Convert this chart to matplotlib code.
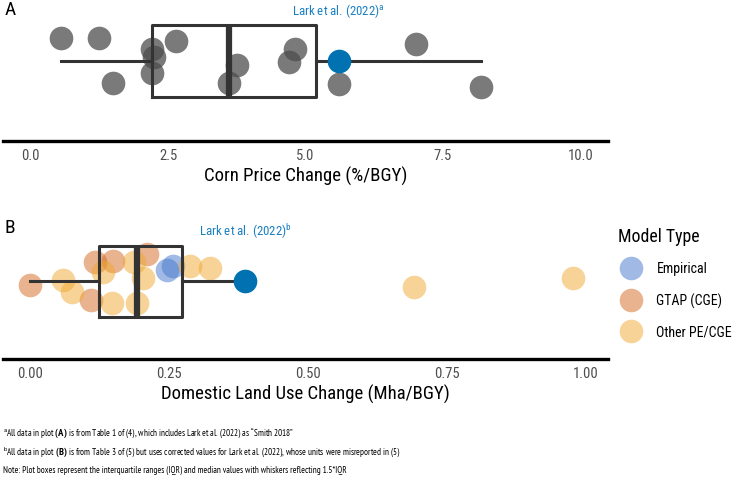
import matplotlib
matplotlib.use('Agg')
import matplotlib.pyplot as plt
from matplotlib.lines import Line2D

plt.rcParams['font.family'] = ['Roboto Condensed', 'DejaVu Sans']
plt.rcParams['mathtext.fontset'] = 'custom'
plt.rcParams['mathtext.rm'] = 'Roboto Condensed'
plt.rcParams['mathtext.bf'] = 'Roboto Condensed:bold'

# panel A: corn price change (%/BGY), last value is Lark et al. (2022)
corn_price = [0.56, 1.25, 1.5, 2.2, 2.25, 2.2, 2.65, 3.75, 3.6, 4.8, 4.7, 5.6, 7.0, 8.2, 5.6]
corn_jitter = [0.64, 0.64, -0.61, 0.33, 0.11, -0.33, 0.56, -0.11, -0.61, 0.33, -0.03, -0.64, 0.47, -0.72, 0.0]
corn_lark = 5.6

# panel B: domestic land use change (Mha/BGY), last value is Lark et al. (2022)
land_use = [0.0, 0.059, 0.075, 0.109, 0.116, 0.131, 0.149, 0.147, 0.186, 0.203, 0.191, 0.209,
            0.256, 0.246, 0.288, 0.324, 0.691, 0.977, 0.387]
land_jitter = [-0.1, 0.03, -0.3, -0.53, 0.54, 0.26, 0.58, -0.62, 0.54, 0.08, -0.62, 0.78,
               0.44, 0.31, 0.44, 0.36, -0.16, 0.08, 0.0]
land_model = ['GTAP (CGE)', 'Other PE/CGE', 'Other PE/CGE', 'GTAP (CGE)', 'GTAP (CGE)',
              'Other PE/CGE', 'GTAP (CGE)', 'Other PE/CGE', 'Other PE/CGE', 'Other PE/CGE',
              'Other PE/CGE', 'GTAP (CGE)', 'Empirical', 'Empirical', 'Other PE/CGE',
              'Other PE/CGE', 'Other PE/CGE', 'Other PE/CGE', 'Lark']
land_lark = 0.387

model_types = ['Empirical', 'GTAP (CGE)', 'Other PE/CGE']
model_colors = {'Empirical': '#4477cc', 'GTAP (CGE)': '#d2691e', 'Other PE/CGE': '#f0a830'}
lark_color = '#0072b2'
box_color = '#333333'
msize = 290

fig = plt.figure(figsize=(7.37, 4.89), dpi=100)
axA = fig.add_axes([3 / 737, 1 - 142 / 489, 605 / 737, 137 / 489])
axB = fig.add_axes([3 / 737, 1 - 360 / 489, 605 / 737, 136 / 489])


def draw_box(ax, vals):
    ax.boxplot(vals, vert=False, positions=[0], widths=2.0, showfliers=False, showcaps=False,
               whis=1.5, manage_ticks=False,
               boxprops=dict(color=box_color, lw=2.2),
               whiskerprops=dict(color=box_color, lw=2.2),
               medianprops=dict(color=box_color, lw=4.5), zorder=3)


def style(ax, xlabel, ticks, ticklabels):
    for s in ['top', 'right', 'left']:
        ax.spines[s].set_visible(False)
    ax.spines['bottom'].set_linewidth(2.4)
    ax.spines['bottom'].set_color('black')
    ax.set_yticks([])
    ax.set_xticks(ticks)
    ax.set_xticklabels(ticklabels)
    ax.tick_params(axis='x', length=0, pad=5, labelsize=10.5, labelcolor='#4d4d4d')
    ax.set_xlabel(xlabel, fontsize=13.5, labelpad=3)
    ax.patch.set_alpha(0)


# panel A
axA.scatter(corn_price[:-1], corn_jitter[:-1], s=msize, color='#4d4d4d', alpha=0.75,
            linewidths=0, zorder=2)
axA.scatter([corn_lark], [corn_jitter[-1]], s=msize, color=lark_color, linewidths=0, zorder=4)
draw_box(axA, corn_price)
axA.set_xlim(-0.5, 10.5)
axA.set_ylim(-2.22, 1.58)
axA.text(corn_lark, 1.4, r'Lark et al. (2022)$^{\mathrm{a}}$', color='#1a7fc1', fontsize=9.3,
         ha='center', va='center')
style(axA, 'Corn Price Change (%/BGY)', [0, 2.5, 5, 7.5, 10], ['0.0', '2.5', '5.0', '7.5', '10.0'])

# panel B
for m in model_types:
    xs = [v for v, t in zip(land_use, land_model) if t == m]
    ys = [j for j, t in zip(land_jitter, land_model) if t == m]
    axB.scatter(xs, ys, s=msize, color=model_colors[m], alpha=0.5, linewidths=0, zorder=2)
axB.scatter([land_lark], [land_jitter[-1]], s=msize, color=lark_color, linewidths=0, zorder=4)
draw_box(axB, land_use)
axB.set_xlim(-0.0495, 1.0395)
axB.set_ylim(-2.19, 1.64)
axB.text(land_lark, 1.42, r'Lark et al. (2022)$^{\mathrm{b}}$', color='#1a7fc1', fontsize=9.3,
         ha='center', va='center')
style(axB, 'Domestic Land Use Change (Mha/BGY)', [0, 0.25, 0.5, 0.75, 1.0],
      ['0.00', '0.25', '0.50', '0.75', '1.00'])

fig.text(10 / 737, 1 - 10 / 489, 'A', fontsize=14, ha='center', va='center')
fig.text(10 / 737, 1 - 228 / 489, 'B', fontsize=14, ha='center', va='center')

handles = [Line2D([], [], ls='', marker='o', markersize=17, markeredgewidth=0,
                  color=model_colors[m], alpha=0.5, label=m) for m in model_types]
leg = fig.legend(handles=handles, loc='upper left', bbox_to_anchor=(612 / 737, 1 - 222 / 489),
                 frameon=False, title='Model Type', fontsize=10, title_fontsize=12.8,
                 labelspacing=1.22, handletextpad=0.8, borderaxespad=0)
leg._legend_box.align = 'left'

notes = [
    r'$^{\mathrm{a}}$All data in plot $\mathbf{(A)}$ is from Table 1 of (4), which includes Lark et al. (2022) as “Smith 2018”',
    r'$^{\mathrm{b}}$All data in plot $\mathbf{(B)}$ is from Table 3 of (5) but uses corrected values for Lark et al. (2022), whose units were misreported in (5)',
    'Note: Plot boxes represent the interquartile ranges (IQR) and median values with whiskers reflecting 1.5*IQR',
]
note_y = [433, 452, 470]
for n, y in zip(notes, note_y):
    fig.text(3 / 737, 1 - y / 489, n, fontsize=6.6, ha='left', va='center',
             family=['PT Sans Narrow', 'DejaVu Sans'])

fig.savefig('out.png', dpi=100)
